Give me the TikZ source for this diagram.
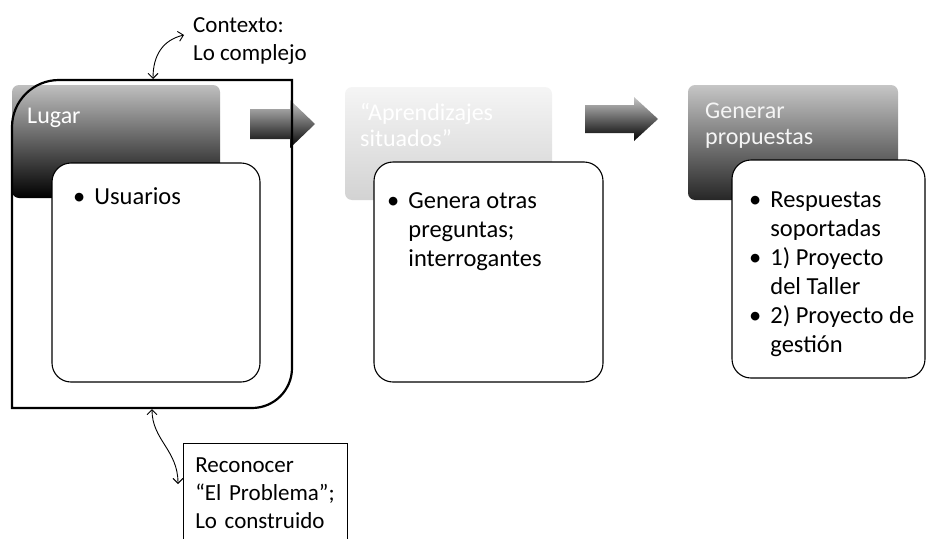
\documentclass[tikz,border=0pt]{standalone}
\usepackage{fontspec}
\setmainfont{Carlito}
\usetikzlibrary{arrows.meta}

\newcommand\blist[1]{\begin{tabular}[t]{@{}l@{\hspace{9pt}}l@{}}#1\end{tabular}}
\newcommand\hdlines[1]{\begin{tabular}[t]{@{}l@{}}#1\end{tabular}}

\tikzset{
  head/.style={rounded corners=7pt, inner sep=0pt},
  card/.style={draw, fill=white, line width=1.1pt, rounded corners=19pt, inner sep=0pt},
  htxt/.style={anchor=base west, inner sep=0pt, font=\fontsize{24}{26}\selectfont},
  btxt/.style={anchor=base west, inner sep=0pt, font=\fontsize{24.5}{29}\selectfont},
  note/.style={inner sep=0pt, font=\fontsize{23}{28}\selectfont},
  link/.style={line width=0.9pt, {Straight Barb[length=5pt]}-{Straight Barb[length=5pt]}},
  barrow/.style={top color=gray!45, middle color=black!80, bottom color=black}
}

\begin{document}
\begin{tikzpicture}[x=1pt,y=-1pt]
    \useasboundingbox (0,0) rectangle (928,538);

    % headers
    \node[head, top color=gray!50, middle color=black!75, bottom color=black, minimum width=208pt, minimum height=113pt] (lugar) at (116,141.5) {};
    \node[head, top color=gray!8, bottom color=gray!35, minimum width=207pt, minimum height=113pt] (situ) at (448.5,143.5) {};
    \node[head, top color=gray!45, middle color=gray!60!black, bottom color=black!85, minimum width=210pt, minimum height=115pt] (gen) at (793,142.5) {};
    \node[htxt, white] (lugart) at (27,123) {Lugar};
    \node[htxt, white] (situt) at (360,120) {\hdlines{“Aprendizajes\\situados”}};
    \node[htxt, white!92!gray] (gent) at (705,118) {\hdlines{Generar\\propuestas}};

    % block arrows
    \shade[barrow] (250,109) -- (290,109) -- (290,100) -- (315,124) -- (290,148) -- (290,139) -- (250,139) -- cycle;
    \shade[barrow] (585,105) -- (634,105) -- (634,97) -- (658,119) -- (634,141) -- (634,133) -- (585,133) -- cycle;

    % contexto outline
    \draw[line width=2.2pt] (12,408) -- (12,127) arc[start angle=180, end angle=270, radius=47] -- (292,80) -- (292,368) arc[start angle=0, end angle=90, radius=40] -- cycle;
    \coordinate (ctop) at (153,80);
    \coordinate (cbot) at (152,408);

    % cards
    \node[card, minimum width=208pt, minimum height=219pt] (usu) at (156,272.5) {};
    \node[card, minimum width=229pt, minimum height=220pt] (preg) at (488.5,272) {};
    \node[card, minimum width=193pt, minimum height=218pt] (resp) at (828.5,269) {};
    \node[btxt] (usut) at (73,204) {\blist{• & Usuarios}};
    \node[btxt] (pregt) at (387,208) {\blist{• & Genera otras\\ & preguntas;\\ & interrogantes}};
    \node[btxt] (respt) at (749,207) {\blist{• & Respuestas\\ & soportadas\\ • & 1) Proyecto\\ & del Taller\\ • & 2) Proyecto de\\ & gestión}};

    % notes
    \node[note, anchor=north west, align=left] (ctx) at (193,17) {Contexto:\\Lo complejo};
    \coordinate (ctxend) at (184,35);
    \node[note, draw, line width=0.6pt, anchor=north west, align=left, text width=140pt, inner xsep=12pt, inner ysep=14pt] (reco) at (183,443) {Reconocer\\“El Problema”;\\Lo construido};
    \coordinate (recoend) at (178,484);

    \draw[link, shorten <=1pt] (ctop) .. controls (153,55) and (163,40) .. (ctxend);
    \draw[link, shorten <=1pt] (cbot) .. controls (152,440) and (178,450) .. (recoend);
\end{tikzpicture}
\end{document}
